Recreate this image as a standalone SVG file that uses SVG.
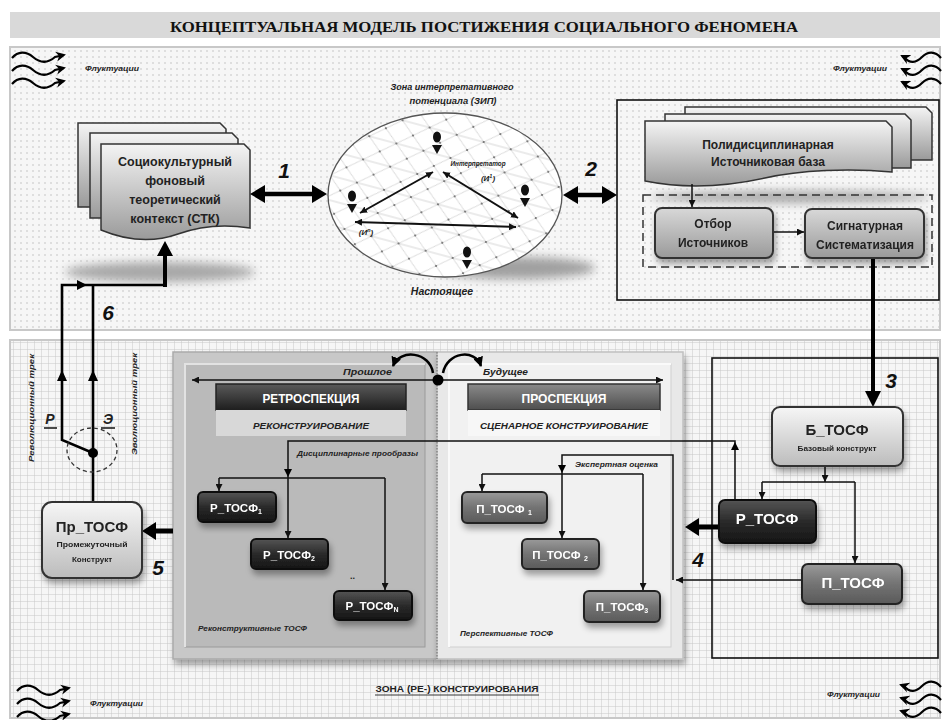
<svg xmlns="http://www.w3.org/2000/svg" width="945" height="720" viewBox="0 0 945 720">
<defs>
<style>
.t{font-family:"Liberation Sans",Arial,sans-serif;font-weight:bold;fill:#222}
.i{font-style:italic}
.c{text-anchor:middle}
.e{text-anchor:end}
.w{fill:#fff}
.ln{fill:none;stroke:#111;stroke-width:1.5}
.thick{fill:none;stroke:#000;stroke-width:4}
.trk{fill:none;stroke:#000;stroke-width:2.6}
.wave{fill:none;stroke:#000;stroke-width:2.2}
.num{font-family:"Liberation Sans",Arial,sans-serif;font-weight:bold;font-style:italic;font-size:21px;fill:#111;text-anchor:middle}
.doc{fill:url(#gDoc);stroke:#333;stroke-width:1.5}
.boxL{fill:url(#gLight);stroke:#333;stroke-width:2}
.boxM{fill:url(#gMid);stroke:#333;stroke-width:2}
.boxD{fill:url(#gDark);stroke:#111;stroke-width:2}
.boxG{fill:url(#gGray);stroke:#222;stroke-width:2}
.ah{fill:#000}
</style>
<linearGradient id="gDoc" x1="0" y1="0" x2="0" y2="1"><stop offset="0" stop-color="#f4f4f4"/><stop offset="1" stop-color="#9a9a9a"/></linearGradient>
<linearGradient id="gLight" x1="0" y1="0" x2="0" y2="1"><stop offset="0" stop-color="#f6f6f6"/><stop offset="1" stop-color="#bcbcbc"/></linearGradient>
<linearGradient id="gMid" x1="0" y1="0" x2="0" y2="1"><stop offset="0" stop-color="#d8d8d8"/><stop offset="1" stop-color="#9a9a9a"/></linearGradient>
<linearGradient id="gDark" x1="0" y1="0" x2="0" y2="1"><stop offset="0" stop-color="#555"/><stop offset="0.5" stop-color="#2a2a2a"/><stop offset="1" stop-color="#151515"/></linearGradient>
<linearGradient id="gGray" x1="0" y1="0" x2="0" y2="1"><stop offset="0" stop-color="#9a9a9a"/><stop offset="0.5" stop-color="#737373"/><stop offset="1" stop-color="#5a5a5a"/></linearGradient>
<linearGradient id="gHeadD" x1="0" y1="0" x2="0" y2="1"><stop offset="0" stop-color="#5a5a5a"/><stop offset="1" stop-color="#1e1e1e"/></linearGradient>
<linearGradient id="gHeadG" x1="0" y1="0" x2="0" y2="1"><stop offset="0" stop-color="#8a8a8a"/><stop offset="1" stop-color="#4e4e4e"/></linearGradient>
<pattern id="dots" width="6" height="6" patternUnits="userSpaceOnUse"><rect width="6" height="6" fill="#f6f6f6"/><circle cx="3" cy="3" r="0.75" fill="#bcbcbc"/></pattern>
<pattern id="grid" width="7" height="7" patternUnits="userSpaceOnUse"><rect width="7" height="7" fill="#f6f6f6"/><path d="M7,0 V7 M0,7 H7" stroke="#c8c8c8" stroke-width="1"/></pattern>
<pattern id="mesh" width="28" height="24" patternUnits="userSpaceOnUse" patternTransform="rotate(15)"><path d="M0,12 L14,0 L28,12 L14,24 Z M0,12 H28" fill="none" stroke="#cdcdcd" stroke-width="0.8"/><circle cx="0" cy="12" r="1.1" fill="#666"/><circle cx="28" cy="12" r="1.1" fill="#666"/><circle cx="14" cy="0" r="1.1" fill="#666"/><circle cx="14" cy="24" r="1.1" fill="#666"/></pattern>
<clipPath id="sph"><ellipse cx="445" cy="195" rx="117" ry="82"/></clipPath>
<filter id="blur" x="-30%" y="-100%" width="160%" height="300%"><feGaussianBlur stdDeviation="5"/></filter>
<filter id="ds" x="-20%" y="-20%" width="140%" height="160%"><feDropShadow dx="2" dy="5" stdDeviation="3" flood-color="#000" flood-opacity="0.35"/></filter>
<marker id="a" viewBox="0 0 10 10" refX="10" refY="5" markerWidth="7" markerHeight="7" markerUnits="userSpaceOnUse" orient="auto-start-reverse"><path d="M0,0 L10,5 L0,10 Z" fill="#111"/></marker>
<marker id="ab" viewBox="0 0 10 10" refX="9" refY="5" markerWidth="10" markerHeight="10" markerUnits="userSpaceOnUse" orient="auto-start-reverse"><path d="M0,0 L10,5 L0,10 Z" fill="#000"/></marker>
<marker id="aw" viewBox="0 0 10 10" refX="8" refY="5" markerWidth="10" markerHeight="11" markerUnits="userSpaceOnUse" orient="auto"><path d="M0,0 L10,5 L0,10 L3,5 Z" fill="#000"/></marker>
<g id="person"><ellipse cx="0" cy="0" rx="4" ry="5.5" fill="#111"/><path d="M-5,8 H5 L0,17 Z" fill="#111"/></g>
</defs>

<rect width="945" height="720" fill="#fff"/>

<g id="title">
<rect x="10" y="12" width="930" height="26" fill="#d9d9d9"/>
<text x="484" y="32" font-family="Liberation Serif,'Times New Roman',serif" font-weight="bold" font-size="15" fill="#111" text-anchor="middle" textLength="628" lengthAdjust="spacingAndGlyphs">КОНЦЕПТУАЛЬНАЯ МОДЕЛЬ ПОСТИЖЕНИЯ СОЦИАЛЬНОГО ФЕНОМЕНА</text>
</g>

<g id="zone-top">
<rect x="10" y="47" width="930" height="283" fill="url(#dots)" stroke="#c8c8c8" stroke-width="2"/>
</g>
<g id="zone-bottom">
<rect x="10" y="340" width="930" height="378" fill="url(#grid)" stroke="#c8c8c8" stroke-width="2"/>
<text class="t c" x="457" y="692" font-size="9" textLength="163" lengthAdjust="spacingAndGlyphs">ЗОНА (РЕ-) КОНСТРУИРОВАНИЯ</text>
<path d="M375,695 H539" stroke="#222" stroke-width="0.9"/>
</g>

<g id="fluct-tl">
<path class="wave" d="M12,58 C18,51 26,51 33,57 S47,64 55,57 L64,55" marker-end="url(#aw)"/>
<path class="wave" d="M12,71 C18,64 26,64 33,70 S47,77 55,70 L64,68" marker-end="url(#aw)"/>
<path class="wave" d="M12,84 C18,77 26,77 33,83 S47,90 55,83 L64,81" marker-end="url(#aw)"/>
<text class="t i" x="85" y="71" font-size="7.5" textLength="54" lengthAdjust="spacingAndGlyphs">Флуктуации</text>
</g>
<g id="fluct-tr">
<path class="wave" d="M941,58 C935,51 928,51 922,57 S910,64 904,57 L902,56" marker-end="url(#aw)"/>
<path class="wave" d="M941,71 C935,64 928,64 922,70 S910,77 904,70 L902,69" marker-end="url(#aw)"/>
<path class="wave" d="M941,84 C935,77 928,77 922,83 S910,90 904,83 L902,82" marker-end="url(#aw)"/>
<text class="t i e" x="887" y="71" font-size="7.5" textLength="54" lengthAdjust="spacingAndGlyphs">Флуктуации</text>
</g>
<g id="fluct-bl">
<path class="wave" d="M17,691 C23,684 31,684 38,690 S52,697 60,690 L69,688" marker-end="url(#aw)"/>
<path class="wave" d="M17,704 C23,697 31,697 38,703 S52,710 60,703 L69,701" marker-end="url(#aw)"/>
<path class="wave" d="M17,717 C23,710 31,710 38,716 S52,723 60,716 L69,714" marker-end="url(#aw)"/>
<text class="t i" x="90" y="706" font-size="7.5" textLength="53" lengthAdjust="spacingAndGlyphs">Флуктуации</text>
</g>
<g id="fluct-br">
<path class="wave" d="M941,687 C935,680 928,680 922,686 S910,693 904,686 L901,685" marker-end="url(#aw)"/>
<path class="wave" d="M941,700 C935,693 928,693 922,699 S910,706 904,699 L901,698" marker-end="url(#aw)"/>
<path class="wave" d="M941,713 C935,706 928,706 922,712 S910,719 904,712 L901,711" marker-end="url(#aw)"/>
<text class="t i e" x="880" y="697" font-size="7.5" textLength="53" lengthAdjust="spacingAndGlyphs">Флуктуации</text>
</g>

<g id="stk">
<ellipse cx="160" cy="272" rx="95" ry="10" fill="#a8a8a8" filter="url(#blur)"/>
<path class="doc" d="M78,123 H220 L226,129 V207 H78 Z"/>
<path class="doc" d="M90,133 H232 L238,139 V218 H90 Z"/>
<path class="doc" d="M101,144 H244 L250,150 V228 C225,224 200,226 178,234 C150,244 125,240 101,230 Z"/>
<text class="t c" x="175" y="166" font-size="12.5">Социокультурный</text>
<text class="t c" x="175" y="185" font-size="12.5">фоновый</text>
<text class="t c" x="175" y="204" font-size="12.5">теоретический</text>
<text class="t c" x="175" y="223" font-size="12.5">контекст (СТК)</text>
</g>

<g id="zip">
<ellipse cx="515" cy="268" rx="80" ry="11" fill="#a0a0a0" filter="url(#blur)"/>
<ellipse cx="445" cy="195" rx="117" ry="82" fill="#fff"/>
<rect x="320" y="105" width="250" height="180" fill="url(#mesh)" clip-path="url(#sph)"/>
<ellipse cx="445" cy="195" rx="117" ry="82" fill="none" stroke="#555" stroke-width="1.3"/>
<use href="#person" x="437" y="137"/>
<use href="#person" x="352" y="196"/>
<use href="#person" x="525" y="190"/>
<use href="#person" x="467" y="252"/>
<path d="M433,172 L360,213" stroke="#111" stroke-width="2" fill="none" marker-start="url(#a)" marker-end="url(#a)"/>
<path d="M443,172 L518,218" stroke="#111" stroke-width="2" fill="none" marker-start="url(#a)" marker-end="url(#a)"/>
<path d="M355,222 L516,227" stroke="#111" stroke-width="2" fill="none" marker-start="url(#a)" marker-end="url(#a)"/>
<text class="t i c" x="452" y="90" font-size="8.5" textLength="123" lengthAdjust="spacingAndGlyphs">Зона интерпретативного</text>
<text class="t i c" x="453" y="104" font-size="8.5" textLength="87" lengthAdjust="spacingAndGlyphs">потенциала (ЗИП)</text>
<text class="t i c" x="478" y="166" font-size="8" textLength="55" lengthAdjust="spacingAndGlyphs">Интерпретатор</text>
<text class="t i c" x="488" y="181" font-size="8">(И<tspan font-size="5.5" dy="-3">1</tspan><tspan dy="3">)</tspan></text>
<text class="t i c" x="366" y="235" font-size="8">(И<tspan font-size="5.5" dy="-3">n</tspan><tspan dy="3">)</tspan></text>
<text class="t i c" x="442" y="295" font-size="10.5">Настоящее</text>
</g>

<g id="source-frame">
<rect x="617" y="100" width="322" height="200" fill="none" stroke="#111" stroke-width="1.6"/>
<ellipse cx="790" cy="197" rx="140" ry="6" fill="#a8a8a8" filter="url(#blur)"/>
<rect x="643" y="195" width="289" height="72" fill="none" stroke="#333" stroke-width="1.5" stroke-dasharray="8,5"/>
</g>
<g id="poly">
<path class="doc" d="M685,107 H926 L932,113 V160 H685 Z"/>
<path class="doc" d="M665,114 H905 L911,120 V168 H665 Z"/>
<path class="doc" d="M645,121 H886 L892,127 V172 C850,168 800,170 765,178 C720,188 680,188 645,181 Z"/>
<text class="t c" x="768" y="149" font-size="12">Полидисциплинарная</text>
<text class="t c" x="768" y="166" font-size="12">Источниковая база</text>
</g>

<g id="retro-panel">
<rect x="173" y="352" width="264" height="307" fill="#c8c8c8" stroke="#aaa" stroke-width="1.5" filter="url(#ds)"/>
<rect x="185" y="364" width="240" height="283" fill="#bababa" stroke="#9a9a9a" stroke-width="1"/>
<path d="M185,647 V364 H425" fill="none" stroke="#e2e2e2" stroke-width="2"/>
<rect x="216" y="384" width="190" height="26" fill="url(#gHeadD)" stroke="#222" stroke-width="1.5"/>
<rect x="216" y="410" width="190" height="26" fill="#d8d8d8"/>
<text class="t c w" x="311" y="403" font-size="12" textLength="97" lengthAdjust="spacingAndGlyphs">РЕТРОСПЕКЦИЯ</text>
<text class="t i c" x="311" y="429" font-size="9.5" textLength="116" lengthAdjust="spacingAndGlyphs">РЕКОНСТРУИРОВАНИЕ</text>
<text class="t i" x="198" y="631" font-size="7.5" textLength="109" lengthAdjust="spacingAndGlyphs">Реконструктивные ТОСФ</text>
<text class="t" x="350" y="579" font-size="9">..</text>
</g>
<g id="pro-panel">
<rect x="437" y="352" width="246" height="307" fill="#e8e8e8" stroke="#c0c0c0" stroke-width="1.5" filter="url(#ds)"/>
<rect x="449" y="364" width="222" height="283" fill="#f1f1f1" stroke="#cfcfcf" stroke-width="1"/>
<path d="M449,647 V364 H671" fill="none" stroke="#fafafa" stroke-width="2"/>
<rect x="468" y="384" width="192" height="26" fill="url(#gHeadG)" stroke="#333" stroke-width="1.5"/>
<rect x="468" y="410" width="192" height="26" fill="#f7f7f7"/>
<text class="t c w" x="564" y="403" font-size="12" textLength="85" lengthAdjust="spacingAndGlyphs">ПРОСПЕКЦИЯ</text>
<text class="t i c" x="564" y="429" font-size="9.5" textLength="168" lengthAdjust="spacingAndGlyphs">СЦЕНАРНОЕ КОНСТРУИРОВАНИЕ</text>
<text class="t i" x="460" y="636" font-size="7.5" textLength="93" lengthAdjust="spacingAndGlyphs">Перспективные ТОСФ</text>
<path d="M437,352 V659" stroke="#777" stroke-width="1.2" stroke-dasharray="1.5,1.5"/>
</g>
<g id="construct-frame">
<rect x="712" y="358" width="226" height="300" fill="none" stroke="#111" stroke-width="1.6"/>
</g>

<g id="connectors">
<path class="ln" d="M692,184 V207" marker-end="url(#a)"/>
<path class="ln" d="M773,232 H804" marker-end="url(#a)"/>
<path class="thick" d="M873,258 V394"/>
<path class="ah" d="M873,407 L865,391 L881,391 Z"/>
<path class="ln" d="M825,466 V482" marker-end="url(#a)"/>
<path class="ln" d="M762,482 H855"/>
<path class="ln" d="M762,482 V499" marker-end="url(#a)"/>
<path class="ln" d="M855,482 V563" marker-end="url(#a)"/>
<path class="ln" d="M735,500 V441 H288 V538" marker-end="url(#a)"/>
<path class="ah" d="M735,442 L731,450 L739,450 Z"/>
<path class="ah" d="M288,477 L284,469 L292,469 Z"/>
<path class="ln" d="M219,478 H385"/>
<path class="ln" d="M219,478 V491" marker-end="url(#a)"/>
<path class="ln" d="M385,478 V590" marker-end="url(#a)"/>
<path class="ln" d="M802,580 H676" marker-end="url(#a)"/>
<path class="ln" d="M673,580 V455 H562 V538" marker-end="url(#a)"/>
<path class="ah" d="M562,473 L558,465 L566,465 Z"/>
<path class="ln" d="M482,474 H643"/>
<path class="ln" d="M482,474 V491" marker-end="url(#a)"/>
<path class="ln" d="M643,474 V590" marker-end="url(#a)"/>
<path d="M264,194 H313" stroke="#000" stroke-width="4.5"/>
<path class="ah" d="M250,194 L265,185 L265,203 Z M327,194 L312,185 L312,203 Z"/>
<path d="M577,195 H603" stroke="#000" stroke-width="4.5"/>
<path class="ah" d="M563,195 L578,186 L578,204 Z M617,195 L602,186 L602,204 Z"/>
<path d="M698,527 H718" stroke="#000" stroke-width="5"/>
<path class="ah" d="M685,527 L699,518 L699,536 Z"/>
<path d="M155,531 H173" stroke="#000" stroke-width="5"/>
<path class="ah" d="M142,531 L156,522 L156,540 Z"/>
<path class="trk" d="M93,502 V285"/>
<path class="trk" d="M93,453 L62,440 V285 H165"/>
<path class="thick" d="M165,287 V254"/>
<path class="ah" d="M165,241 L157,256 L173,256 Z"/>
<path class="ah" d="M62,370 L57,381 L67,381 Z M93,370 L88,381 L98,381 Z M87,285 L77,280 L77,290 Z"/>
<circle cx="93" cy="453" r="5" fill="#000"/>
<ellipse cx="92" cy="450" rx="25" ry="22" fill="none" stroke="#333" stroke-width="1.3" stroke-dasharray="4,3"/>
<path d="M437,380 H192" stroke="#111" stroke-width="1.6" fill="none" marker-end="url(#a)"/>
<path d="M437,380 H663" stroke="#111" stroke-width="1.6" fill="none" marker-end="url(#a)"/>
<circle cx="438" cy="380" r="5.5" fill="#000"/>
<path d="M433,373 C430,352 400,348 393,366" stroke="#000" stroke-width="2.5" fill="none" marker-end="url(#ab)"/>
<path d="M443,373 C447,352 475,348 481,366" stroke="#000" stroke-width="2.5" fill="none" marker-end="url(#ab)"/>
<text class="t i e" x="392" y="375" font-size="9.5" textLength="49" lengthAdjust="spacingAndGlyphs">Прошлое</text>
<text class="t i" x="483" y="375" font-size="9.5" textLength="45" lengthAdjust="spacingAndGlyphs">Будущее</text>
<text class="t i" x="297" y="456" font-size="8" textLength="121" lengthAdjust="spacingAndGlyphs">Дисциплинарные прообразы</text>
<text class="t i" x="575" y="467" font-size="8" textLength="83" lengthAdjust="spacingAndGlyphs">Экспертная оценка</text>
<text class="num" x="284" y="178">1</text>
<text class="num" x="591" y="176">2</text>
<text class="num" x="891" y="388">3</text>
<text class="num" x="698" y="567">4</text>
<text class="num" x="158" y="575">5</text>
<text class="num" x="108" y="320">6</text>
<text class="t i c" x="50" y="424" font-size="14">Р</text>
<path d="M44,428 H57" stroke="#111" stroke-width="1.5"/>
<text class="t i c" x="108" y="424" font-size="14">Э</text>
<path d="M101,428 H115" stroke="#111" stroke-width="1.5"/>
<text class="t i c" transform="translate(34,408) rotate(-90)" font-size="8" textLength="108" lengthAdjust="spacingAndGlyphs">Революционный трек</text>
<text class="t i c" transform="translate(137,404) rotate(-90)" font-size="8" textLength="102" lengthAdjust="spacingAndGlyphs">Эволюционный трек</text>
</g>

<g id="otbor" filter="url(#ds)">
<rect class="boxM" x="655" y="208" width="118" height="50" rx="7"/>
<text class="t c" x="713" y="228" font-size="12">Отбор</text>
<text class="t c" x="713" y="247" font-size="12">Источников</text>
</g>
<g id="signat" filter="url(#ds)">
<rect class="boxM" x="805" y="209" width="119" height="49" rx="7"/>
<text class="t c" x="865" y="230" font-size="12">Сигнатурная</text>
<text class="t c" x="865" y="249" font-size="12">Систематизация</text>
</g>
<g id="b-tosf" filter="url(#ds)">
<rect class="boxL" x="772" y="407" width="131" height="59" rx="8"/>
<text class="t c" x="837" y="435" font-size="15">Б_ТОСФ</text>
<text class="t c" x="837" y="451" font-size="8" textLength="79" lengthAdjust="spacingAndGlyphs">Базовый конструкт</text>
</g>
<g id="r-tosf" filter="url(#ds)">
<rect class="boxD" x="719" y="500" width="97" height="43" rx="6"/>
<text class="t c w" x="767" y="524" font-size="15">Р_ТОСФ</text>
</g>
<g id="p-tosf" filter="url(#ds)">
<rect class="boxG" x="802" y="564" width="100" height="40" rx="6"/>
<text class="t c w" x="853" y="588" font-size="15">П_ТОСФ</text>
</g>
<g id="pr-tosf" filter="url(#ds)">
<rect class="boxL" x="42" y="502" width="100" height="76" rx="10"/>
<text class="t c" x="92" y="532" font-size="15">Пр_ТОСФ</text>
<text class="t c" x="92" y="547" font-size="8" textLength="71" lengthAdjust="spacingAndGlyphs">Промежуточный</text>
<text class="t c" x="92" y="562" font-size="8">Конструкт</text>
</g>
<g id="r-tosf1" filter="url(#ds)">
<rect class="boxD" x="198" y="492" width="78" height="30" rx="5"/>
<text class="t c w" x="236" y="512" font-size="11.5">Р_ТОСФ<tspan font-size="7" dy="2">1</tspan></text>
</g>
<g id="r-tosf2" filter="url(#ds)">
<rect class="boxD" x="251" y="539" width="77" height="30" rx="5"/>
<text class="t c w" x="289" y="559" font-size="11.5">Р_ТОСФ<tspan font-size="7" dy="2">2</tspan></text>
</g>
<g id="r-tosfn" filter="url(#ds)">
<rect class="boxD" x="334" y="591" width="78" height="29" rx="5"/>
<text class="t c w" x="372" y="610" font-size="11.5">Р_ТОСФ<tspan font-size="7" dy="2">N</tspan></text>
</g>
<g id="p-tosf1" filter="url(#ds)">
<rect class="boxG" x="462" y="492" width="85" height="31" rx="5"/>
<text class="t c w" x="504" y="513" font-size="11.5">П_ТОСФ <tspan font-size="7" dy="2">1</tspan></text>
</g>
<g id="p-tosf2" filter="url(#ds)">
<rect class="boxG" x="522" y="539" width="77" height="30" rx="5"/>
<text class="t c w" x="560" y="559" font-size="11.5">П_ТОСФ <tspan font-size="7" dy="2">2</tspan></text>
</g>
<g id="p-tosf3" filter="url(#ds)">
<rect class="boxG" x="584" y="591" width="76" height="31" rx="5"/>
<text class="t c w" x="622" y="611" font-size="11.5">П_ТОСФ<tspan font-size="7" dy="2">3</tspan></text>
</g>
</svg>
